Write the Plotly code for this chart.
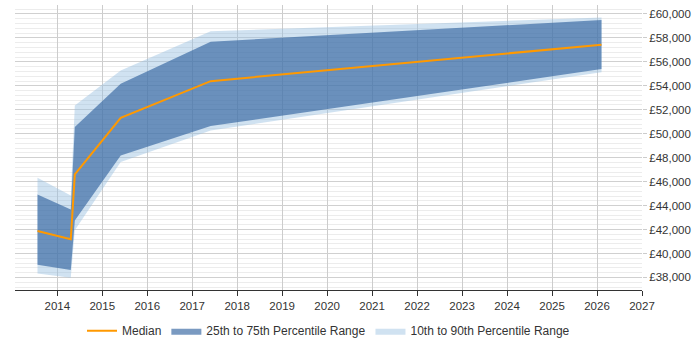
import plotly.graph_objects as go

# Data
x_years = [2013.56, 2014.30, 2014.39, 2015.41, 2017.41, 2026.10]
p90 = [46330, 44850, 52350, 55280, 58560, 59700]
p75 = [44930, 43680, 50560, 54170, 57690, 59500]
median = [41870, 41190, 46600, 51330, 54390, 57440]
p25 = [39050, 38610, 42750, 48190, 50640, 55400]
p10 = [38330, 37970, 41940, 47640, 50280, 55140]
year_ticks = list(range(2014, 2028))

light = "rgba(150,190,225,0.45)"
dark = "rgba(50,100,160,0.65)"

fig = go.Figure()
# 10-90 band
fig.add_trace(go.Scatter(x=x_years, y=p10, mode="lines", line=dict(width=0),
                         showlegend=False, hoverinfo="skip"))
fig.add_trace(go.Scatter(x=x_years, y=p90, mode="lines", line=dict(width=0),
                         fill="tonexty", fillcolor=light,
                         name="10th to 90th Percentile Range", legendrank=3))
# 25-75 band
fig.add_trace(go.Scatter(x=x_years, y=p25, mode="lines", line=dict(width=0),
                         showlegend=False, hoverinfo="skip"))
fig.add_trace(go.Scatter(x=x_years, y=p75, mode="lines", line=dict(width=0),
                         fill="tonexty", fillcolor=dark,
                         name="25th to 75th Percentile Range", legendrank=2))
# median
fig.add_trace(go.Scatter(x=x_years, y=median, mode="lines",
                         line=dict(color="#ff9900", width=2),
                         name="Median", legendrank=1))

fig.update_layout(
    width=700, height=350,
    margin=dict(l=15, r=58, t=5, b=58),
    paper_bgcolor="white", plot_bgcolor="white",
    font=dict(family="Liberation Sans, Arial, sans-serif", size=11.5, color="#333333"),
    legend=dict(orientation="h", x=0.5, xanchor="center", y=-0.143, yanchor="middle",
                font=dict(size=12, color="#333333"), traceorder="normal",
                itemwidth=30),
    xaxis=dict(range=[2013.06, 2027], tickmode="array", tickvals=year_ticks,
               ticktext=[str(v) for v in year_ticks],
               showgrid=True, gridcolor="#cccccc", gridwidth=1,
               showline=True, linecolor="#333333", linewidth=1,
               ticks="outside", ticklen=5, tickcolor="#333333",
               zeroline=False, fixedrange=True),
    yaxis=dict(range=[36950, 60750], side="right", dtick=2000, tick0=0,
               tickprefix="£", tickformat=",",
               showgrid=True, gridcolor="#d0d0d0", gridwidth=1,
               minor=dict(dtick=400, showgrid=True, gridcolor="#ececec", gridwidth=1),
               ticks="outside", ticklen=4, tickcolor="#cccccc",
               showline=False, zeroline=False, fixedrange=True),
)

fig.write_html("out.html")
